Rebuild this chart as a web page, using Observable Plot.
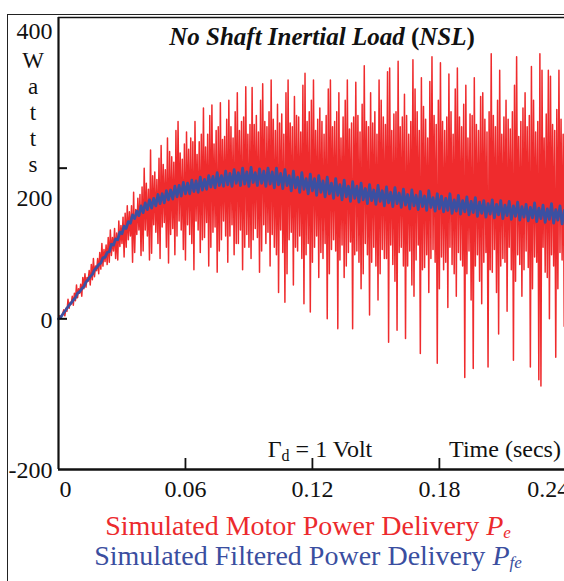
<!DOCTYPE html>
<html><head><meta charset="utf-8">
<script src="https://cdn.jsdelivr.net/npm/d3@7"></script>
<script src="https://cdn.jsdelivr.net/npm/@observablehq/plot@0.6"></script>
<style>
html,body{margin:0;padding:0;overflow:hidden;background:#fff;width:564px;height:581px;}
#wrap{position:relative;width:564px;height:581px;overflow:hidden;}
#box{position:absolute;left:7px;top:14px;width:700px;height:700px;border-left:1px solid #222;border-top:1px solid #222;}
#chart{position:absolute;left:0;top:0;width:600px;}
#chart svg{max-width:none !important;overflow:visible;}
.leg{position:absolute;left:308px;transform:translateX(-50%);white-space:nowrap;font-family:"Liberation Serif","Times New Roman",serif;font-size:28px;line-height:30px;}
.leg sub{font-size:17px;vertical-align:-0.18em;line-height:0;}
</style></head><body>
<div id="wrap">
<div id="box"></div>
<div id="chart"></div>
<div class="leg" style="top:511px;color:#ec2a2d">Simulated Motor Power Delivery <i>P<sub>e</sub></i></div>
<div class="leg" style="top:541px;color:#3a4ea0">Simulated Filtered Power Delivery <i>P<sub>fe</sub></i></div>
</div>
<script>
// sample spacing of the simulation output (s)
const dt = 0.0005;

// Simulated motor power Pe (W): outer swings (troughs / peaks) ...
const redLow = [
  0, 4, 10, 18, 24, 30, 40, 45, 52, 60,
  66, 72, 75, 80, 78, 82, 95, 75, 88, 84,
  90, 78, 87, 100, 80, 95, 74, 85, 110, 92,
  78, 100, 65, 88, 105, 70, 95, 62, 90, 110,
  75, 85, 100, 65, 95, 80, 105, 62, 90, 115,
  70, 85, 35, 22, 60, 45, 95, 80, 20, 9,
  75, 55, 88, 0, 60, 90, -13, 55, 70, -13,
  85, 40, 60, 5, 75, 25, 60, 80, -31, 50,
  -15, 70, -26, 45, 30, -46, 65, 35, 80, -59,
  40, 75, 15, 60, 30, 70, -78, 25, -66, 50,
  20, -64, 65, 35, -20, 75, 10, -55, 50, 30,
  65, -64, 40, -81, -89, 55, 0, -51, 40, -10,
  60, -30, 45, 15, 50
];
const redHigh = [
  4, 14, 26, 34, 45, 55, 60, 72, 80, 88,
  100, 108, 118, 114, 130, 140, 150, 168, 145, 175,
  200, 224, 190, 213, 230, 240, 222, 250, 262, 232,
  248, 235, 262, 245, 280, 270, 284, 255, 287, 265,
  290, 275, 300, 268, 308, 307, 258, 290, 312, 275,
  317, 285, 260, 300, 317, 295, 270, 310, 326, 290,
  317, 280, 262, 305, 317, 275, 300, 290, 317, 268,
  314, 285, 336, 300, 260, 317, 290, 328, 333, 275,
  342, 298, 270, 344, 305, 320, 282, 315, 348, 290,
  340, 268, 325, 305, 333, 285, 310, 270, 320, 295,
  300, 275, 352, 290, 330, 290, 265, 310, 348, 280,
  300, 335, 290, 352, 330, 330, 322, 278, 330, 300,
  315, 285, 325, 300, 310
];
// ... and inner swings between them
const redLowIn = [
  1, 7, 14, 20, 28, 34, 42, 50, 56, 64,
  70, 76, 84, 90, 96, 100, 105, 110, 112, 118,
  118, 110, 125, 115, 122, 128, 112, 120, 130, 118,
  125, 112, 130, 118, 108, 128, 115, 122, 105, 130,
  110, 125, 100, 118, 112, 95, 120, 108, 125, 100,
  112, 95, 118, 88, 105, 115, 90, 110, 85, 100,
  95, 110, 80, 100, 92, 105, 78, 98, 88, 102,
  90, 75, 100, 85, 95, 70, 92, 80, 98, 72,
  88, 95, 70, 90, 78, 98, 68, 85, 92, 75,
  82, 65, 95, 72, 88, 78, 60, 90, 70, 85,
  75, 88, 62, 92, 70, 80, 95, 65, 85, 72,
  90, 68, 82, 75, 95, 62, 85, 70, 88, 78,
  72, 90, 65, 85, 75
];
const redHighIn = [
  5, 12, 22, 30, 40, 46, 55, 64, 70, 80,
  92, 98, 108, 120, 124, 135, 142, 150, 160, 165,
  180, 172, 195, 185, 205, 198, 215, 208, 220, 212,
  225, 240, 218, 235, 228, 245, 232, 250, 238, 242,
  255, 240, 250, 262, 245, 258, 270, 248, 262, 255,
  265, 250, 272, 245, 260, 255, 268, 248, 262, 275,
  250, 265, 245, 270, 255, 262, 240, 268, 252, 260,
  270, 248, 262, 255, 275, 245, 268, 258, 250, 272,
  255, 268, 245, 262, 275, 250, 265, 240, 270, 258,
  262, 250, 275, 245, 268, 255, 240, 272, 258, 250,
  265, 248, 270, 255, 245, 268, 252, 275, 242, 262,
  255, 270, 248, 262, 240, 272, 258, 250, 265, 245,
  268, 252, 262, 245, 258
];

// Simulated filtered power Pfe (W)
const blueLow = [
  0, 6, 14, 21, 28, 36, 43, 52, 59, 68,
  74, 82, 89, 98, 105, 113, 120, 127, 133, 137,
  141, 145, 147, 150, 153, 154, 158, 159, 162, 163,
  166, 166, 169, 168, 171, 172, 175, 174, 177, 176,
  178, 176, 180, 177, 179, 176, 181, 177, 180, 176,
  179, 174, 178, 173, 177, 170, 174, 168, 172, 166,
  170, 164, 168, 162, 166, 160, 164, 158, 162, 156,
  160, 155, 158, 153, 157, 152, 156, 150, 154, 149,
  153, 148, 151, 146, 150, 145, 149, 144, 148, 143,
  146, 142, 144, 140, 143, 139, 142, 138, 141, 136,
  140, 135, 139, 134, 138, 133, 137, 132, 136, 131,
  135, 130, 134, 129, 133, 128, 132, 127, 131, 126,
  130, 126, 129, 125, 128
];
const blueHigh = [
  2, 10, 18, 25, 34, 40, 49, 56, 65, 72,
  81, 88, 99, 106, 115, 123, 129, 138, 143, 150,
  154, 158, 160, 165, 166, 170, 171, 176, 177, 181,
  180, 184, 183, 188, 185, 190, 189, 194, 190, 196,
  193, 198, 194, 200, 195, 201, 194, 199, 196, 200,
  195, 200, 193, 198, 190, 196, 188, 194, 186, 192,
  186, 190, 183, 188, 180, 186, 178, 184, 176, 182,
  176, 180, 173, 178, 171, 177, 170, 175, 168, 174,
  167, 172, 165, 171, 164, 169, 163, 170, 161, 166,
  163, 160, 166, 158, 164, 157, 162, 156, 161, 155,
  157, 153, 158, 152, 157, 151, 156, 150, 155, 149,
  152, 148, 154, 147, 151, 146, 153, 145, 150, 144,
  149, 144, 150, 143, 148
];

const xTicks = [0.06, 0.12, 0.18, 0.24];
const yTicks = [400, 200, 0, -200];

// assemble the sample sequences
const pe = [];
redLow.forEach((v, k) => {
  const seq = k % 2 === 0
    ? [v, redHigh[k], redLowIn[k], redHighIn[k]]
    : [redLowIn[k], redHighIn[k], v, redHigh[k]];
  seq.forEach((w, j) => pe.push({t: (4 * k + j) * dt, v: w}));
});
const pfe = [];
blueLow.forEach((v, k) => {
  pfe.push({t: 4 * k * dt, v});
  pfe.push({t: (4 * k + 2) * dt, v: blueHigh[k]});
});

const RED = "#ef2b2d", BLUE = "#3b50a2", INK = "#111";
const FS = 24;

const chart = Plot.plot({
  width: 600, height: 510,
  marginLeft: 58, marginRight: 13, marginTop: 17, marginBottom: 41,
  style: {fontFamily: "'Liberation Serif','Times New Roman',serif", color: INK, background: "transparent", maxWidth: "none", overflow: "visible"},
  x: {domain: [0, 0.25], label: null},
  y: {domain: [-200, 400], label: null},
  marks: [
    Plot.line(pe, {x: "t", y: "v", stroke: RED, strokeWidth: 1.5}),
    Plot.line(pfe, {x: "t", y: "v", stroke: BLUE, strokeWidth: 2.8}),
    Plot.ruleX([0], {stroke: INK, strokeWidth: 2.2}),
    Plot.ruleY([-200], {stroke: INK, strokeWidth: 2.5}),
    Plot.ruleY([400], {stroke: INK, strokeWidth: 1.6}),
    // inward ticks
    Plot.axisY([200, 0], {tickSize: -9, strokeWidth: 2, tickFormat: () => "", label: null}),
    Plot.axisX(xTicks, {tickSize: -11, strokeWidth: 1.8, tickFormat: () => "", label: null}),
    // tick labels
    Plot.axisY([yTicks[0]], {tickSize: 0, tickPadding: 6, dy: 14, fontSize: FS, tickFormat: d => String(d), label: null}),
    Plot.axisY([yTicks[1]], {tickSize: 0, tickPadding: 6, dy: 30, fontSize: FS, tickFormat: d => String(d), label: null}),
    Plot.axisY(yTicks.slice(2), {tickSize: 0, tickPadding: 6, dy: 1, fontSize: FS, tickFormat: d => String(d), label: null}),
    Plot.axisX([0], {tickSize: 0, tickPadding: 10, dx: 7, fontSize: FS, tickFormat: d => String(d), label: null}),
    Plot.axisX(xTicks.slice(0, 3), {tickSize: 0, tickPadding: 10, fontSize: FS, tickFormat: d => String(d), label: null}),
    Plot.axisX(xTicks.slice(3), {tickSize: 0, tickPadding: 10, dx: -18, fontSize: FS, tickFormat: d => String(d), label: null})
  ]
});
chart.style.maxWidth = "none";
document.getElementById("chart").appendChild(chart);

const svg = d3.select(chart);
const fam = "'Liberation Serif','Times New Roman',serif";

// title
const title = svg.append("text").attr("x", 322).attr("y", 45).attr("text-anchor", "middle")
  .attr("font-family", fam).attr("font-size", 25).attr("font-weight", "bold").attr("fill", INK);
title.append("tspan").attr("font-style", "italic").text("No Shaft Inertial Load ");
title.append("tspan").text("(");
title.append("tspan").attr("font-style", "italic").text("NSL");
title.append("tspan").text(")");

// y label stacked
["W", "a", "t", "t", "s"].forEach((ch, i) => {
  svg.append("text").attr("x", 33).attr("y", 68 + i * 26).attr("text-anchor", "middle")
    .attr("font-family", fam).attr("font-size", 23).attr("fill", INK).text(ch);
});

// annotation
const ann = svg.append("text").attr("x", 320).attr("y", 457).attr("font-family", fam)
  .attr("font-size", FS).attr("fill", INK);
ann.append("tspan").text("\u0393");
ann.append("tspan").attr("font-size", 16).attr("dy", 4).text("d");
ann.append("tspan").attr("dy", -4).text(" = 1 Volt");

svg.append("text").attr("x", 505).attr("y", 457).attr("text-anchor", "middle")
  .attr("font-family", fam).attr("font-size", FS).attr("fill", INK).text("Time (secs)");
</script>
</body></html>
